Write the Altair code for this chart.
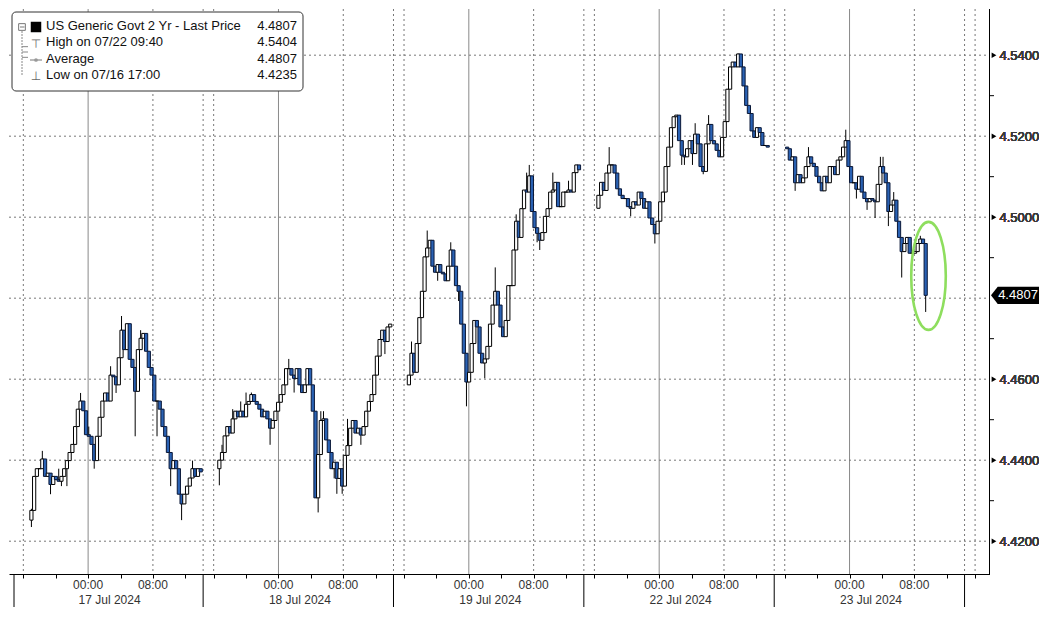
import altair as alt
import pandas as pd

# ---------------- data ----------------
dates = ["17 Jul 2024", "18 Jul 2024", "19 Jul 2024", "22 Jul 2024", "23 Jul 2024"]
# clock hour (relative to midnight of the session date) of first / last bar
session_first_hour = [-7.0, -7.3, -7.4, -7.5, -7.7]
session_last_hour = [13.9, 13.8, 13.6, 13.4, 9.4]
session_open = [4.4252, 4.4379, 4.4586, 4.5022, 4.5173]

s1_close = [4.4276, 4.4360, 4.4379, 4.4379, 4.4403, 4.4360, 4.4368, 4.4340, 4.4360, 4.4352,
            4.4348, 4.4360, 4.4379, 4.4399, 4.4419, 4.4439, 4.4483, 4.4526, 4.4546, 4.4522,
            4.4463, 4.4459, 4.4439, 4.4399, 4.4459, 4.4506, 4.4546, 4.4566, 4.4546, 4.4610,
            4.4606, 4.4586, 4.4653, 4.4721, 4.4673, 4.4737, 4.4649, 4.4629, 4.4570, 4.4673,
            4.4701, 4.4713, 4.4669, 4.4629, 4.4610, 4.4546, 4.4546, 4.4526, 4.4483, 4.4459,
            4.4419, 4.4379, 4.4399, 4.4379, 4.4316, 4.4292, 4.4316, 4.4336, 4.4356, 4.4379,
            4.4360, 4.4379, 4.4371]
s1_high = {0: 4.4280, 4: 4.4423, 10: 4.4379, 18: 4.4566, 21: 4.4483, 29: 4.4632,
           33: 4.4756, 40: 4.4721, 59: 4.4399}
s1_low = {0: 4.4235, 1: 4.4316, 7: 4.4316, 11: 4.4336, 13: 4.4336, 23: 4.4379, 31: 4.4566,
          38: 4.4459, 46: 4.4459, 51: 4.4336, 55: 4.4252}

s2_close = [4.4400, 4.4419, 4.4460, 4.4483, 4.4467, 4.4502, 4.4521, 4.4507, 4.4521, 4.4507,
            4.4538, 4.4545, 4.4562, 4.4545, 4.4538, 4.4526, 4.4507, 4.4521, 4.4502, 4.4479,
            4.4498, 4.4521, 4.4543, 4.4562, 4.4586, 4.4626, 4.4626, 4.4610, 4.4602, 4.4626,
            4.4586, 4.4567, 4.4586, 4.4626, 4.4586, 4.4521, 4.4307, 4.4414, 4.4498, 4.4502,
            4.4450, 4.4419, 4.4379, 4.4395, 4.4355, 4.4379, 4.4336, 4.4412, 4.4436, 4.4479,
            4.4498, 4.4467, 4.4479, 4.4462, 4.4483, 4.4521, 4.4545, 4.4562, 4.4610, 4.4657,
            4.4698, 4.4721, 4.4693, 4.4729, 4.4736]
s2_high = {1: 4.4438, 5: 4.4526, 8: 4.4545, 10: 4.4567, 12: 4.4567, 26: 4.4650,
           38: 4.4521, 39: 4.4521, 48: 4.4502}
s2_low = {0: 4.4338, 19: 4.4438, 28: 4.4567, 37: 4.4271, 43: 4.4355, 44: 4.4317,
          46: 4.4317, 53: 4.4438, 62: 4.4662}

s3_close = [4.4610, 4.4664, 4.4617, 4.4688, 4.4752, 4.4817, 4.4902, 4.4924, 4.4943, 4.4879,
            4.4864, 4.4883, 4.4864, 4.4860, 4.4843, 4.4879, 4.4919, 4.4879, 4.4831, 4.4817,
            4.4736, 4.4664, 4.4593, 4.4617, 4.4688, 4.4745, 4.4729, 4.4664, 4.4640, 4.4650,
            4.4681, 4.4736, 4.4783, 4.4817, 4.4783, 4.4729, 4.4705, 4.4745, 4.4831, 4.4831,
            4.4919, 4.4990, 4.4950, 4.5021, 4.5067, 4.5062, 4.5102, 4.5014, 4.4974, 4.4960,
            4.4943, 4.4962, 4.5002, 4.5021, 4.5062, 4.5067, 4.5086, 4.5026, 4.5026, 4.5062,
            4.5062, 4.5067, 4.5062, 4.5110, 4.5129, 4.5117]
s3_high = {1: 4.4693, 7: 4.4967, 16: 4.4938, 33: 4.4876, 41: 4.5007, 45: 4.5110,
           46: 4.5129, 55: 4.5110, 61: 4.5090}
s3_low = {11: 4.4843, 19: 4.4793, 22: 4.4533, 29: 4.4602, 49: 4.4938, 50: 4.4919}

s4_close = [4.5054, 4.5086, 4.5066, 4.5109, 4.5129, 4.5129, 4.5109, 4.5070, 4.5054, 4.5046,
            4.5046, 4.5026, 4.5022, 4.5038, 4.5030, 4.5062, 4.5046, 4.5022, 4.5038, 4.4998,
            4.4982, 4.4959, 4.4990, 4.5038, 4.5062, 4.5125, 4.5173, 4.5221, 4.5248, 4.5252,
            4.5189, 4.5153, 4.5149, 4.5169, 4.5189, 4.5157, 4.5205, 4.5181, 4.5125, 4.5113,
            4.5181, 4.5229, 4.5189, 4.5181, 4.5165, 4.5149, 4.5197, 4.5236, 4.5316, 4.5371,
            4.5383, 4.5371, 4.5403, 4.5371, 4.5324, 4.5276, 4.5256, 4.5213, 4.5197, 4.5221,
            4.5209, 4.5177, 4.5177, 4.5173]
s4_high = {4: 4.5173, 36: 4.5232, 41: 4.5252, 52: 4.5404, 61: 4.5193}
s4_low = {12: 4.5002, 21: 4.4935, 31: 4.5129, 32: 4.5129, 35: 4.5129, 39: 4.5106}

s5_close = [4.5169, 4.5141, 4.5149, 4.5085, 4.5105, 4.5085, 4.5097, 4.5125, 4.5149, 4.5133,
            4.5125, 4.5101, 4.5085, 4.5065, 4.5101, 4.5085, 4.5125, 4.5125, 4.5105, 4.5141,
            4.5149, 4.5173, 4.5189, 4.5125, 4.5085, 4.5085, 4.5069, 4.5101, 4.5062, 4.5046,
            4.5038, 4.5046, 4.5042, 4.5038, 4.5081, 4.5125, 4.5109, 4.5085, 4.5014, 4.5030,
            4.5042, 4.4990, 4.4950, 4.4915, 4.4935, 4.4950, 4.4911, 4.4911, 4.4915, 4.4935,
            4.4946, 4.4935, 4.4807]
s5_high = {8: 4.5173, 22: 4.5216, 35: 4.5149, 36: 4.5149, 40: 4.5062, 50: 4.4954}
s5_low = {3: 4.5065, 26: 4.5046, 30: 4.5018, 33: 4.4998, 38: 4.4978, 43: 4.4851, 52: 4.4766}

y_grid = [4.42, 4.44, 4.46, 4.48, 4.50, 4.52, 4.54]
y_labelled = [4.42, 4.44, 4.46, 4.50, 4.52, 4.54]   # 4.48 is hidden under the price tag
y_minor = [4.43, 4.45, 4.47, 4.49, 4.51, 4.53]
last_price = 4.4807
legend_labels = ["US Generic Govt 2 Yr - Last Price", "High on 07/22 09:40", "Average",
                 "Low on 07/16 17:00"]
legend_values = ["4.4807", "4.5404", "4.4807", "4.4235"]

# ---------------- layout constants ----------------
W, H = 980, 565
SESSION = 23.5     # compressed axis hours per session
MID0 = 9.15        # axis hour of the first midnight
T_MAX = 119.75
Y_MIN, Y_MAX = 4.4119, 4.5514
FONT = "Liberation Sans"

closes = [s1_close, s2_close, s3_close, s4_close, s5_close]
highs = [s1_high, s2_high, s3_high, s4_high, s5_high]
lows = [s1_low, s2_low, s3_low, s4_low, s5_low]

rows = []
for k in range(5):
    c_list = closes[k]
    n = len(c_list)
    prev = session_open[k]
    a, b = session_first_hour[k], session_last_hour[k]
    for i, c in enumerate(c_list):
        clock = a + (b - a) * i / (n - 1)
        t = SESSION * k + MID0 + clock
        o = prev
        hi = max(o, c, highs[k].get(i, 0))
        lo = min(o, c, lows[k].get(i, 99))
        rows.append(dict(t=t, open=o, close=c, high=hi, low=lo,
                         dir="up" if c >= o else "down"))
        prev = c
candles = pd.DataFrame(rows)

midnights = [MID0 + SESSION * k for k in range(5)]
eights = [m + 8 for m in midnights]
sixteens = [m - 8 for m in midnights] + [MID0 + SESSION * 5 - 8]
bounds = [m + 14.2 for m in midnights]
tick4h = sorted(m + h for m in midnights + [MID0 + SESSION * 5]
                for h in (-8, -4, 0, 4, 8, 12) if 0 <= m + h <= T_MAX)

solid_grid = pd.DataFrame({"t": midnights})
dotted_grid = pd.DataFrame({"t": sixteens + eights + bounds})
hgrid = pd.DataFrame({"p": y_grid})
labelled = pd.DataFrame({"p": y_labelled})
minor = pd.DataFrame({"p": y_minor})
time_labels = pd.DataFrame({"t": midnights + eights,
                            "label": ["00:00"] * 5 + ["08:00"] * 5})
date_labels = pd.DataFrame({"t": [m + 2.65 for m in midnights], "label": dates})
separators = pd.DataFrame({"t": [0.0] + bounds})
last_t = rows[-1]["t"]
ellipse = pd.DataFrame({"t": [last_t + 0.35], "p": [4.4855]})
tag = pd.DataFrame({"p": [last_price], "label": [f"{last_price:.4f}"]})
one = pd.DataFrame({"k": [0]})


def X(field="t"):
    return alt.X(f"{field}:Q", scale=alt.Scale(domain=[0, T_MAX], nice=False, zero=False),
                 axis=alt.Axis(values=tick4h, labels=False, ticks=True, tickSize=4,
                               tickColor="black", domainColor="black", grid=False,
                               title=None))


def Y(field):
    return alt.Y(f"{field}:Q", scale=alt.Scale(domain=[Y_MIN, Y_MAX], nice=False, zero=False),
                 axis=alt.Axis(orient="right", values=y_labelled, format=".4f", ticks=False,
                               labelPadding=10, labelColor="#3a3a3a", labelFontSize=13,
                               labelFontWeight="normal",
                               labelFont=FONT, domainColor="black", grid=False, title=None))


grid_solid = alt.Chart(solid_grid).mark_rule(color="#8a8a8a", strokeWidth=1).encode(
    x=X(), y=alt.value(0), y2=alt.value(H))
grid_dot = alt.Chart(dotted_grid).mark_rule(color="#777777", strokeWidth=1,
                                            strokeDash=[2, 3]).encode(
    x=X(), y=alt.value(0), y2=alt.value(H))
grid_h = alt.Chart(hgrid).mark_rule(color="#777777", strokeWidth=1, strokeDash=[2, 3]).encode(
    y=Y("p"), x=alt.value(0), x2=alt.value(W))

wicks = alt.Chart(candles).mark_rule(color="black", strokeWidth=1).encode(
    x=X(), y=Y("low"), y2="high")
bodies = alt.Chart(candles).mark_bar(width=3.2, strokeWidth=1).encode(
    x=X(), y=Y("open"), y2="close",
    color=alt.Color("dir:N", scale=alt.Scale(domain=["up", "down"], range=["white", "#2a62b4"]),
                    legend=None),
    stroke=alt.Stroke("dir:N", scale=alt.Scale(domain=["up", "down"],
                                               range=["black", "#0a1838"]), legend=None))

ring = alt.Chart(ellipse).mark_point(
    shape="M 0 -1 A 0.32 1 0 1 1 0 1 A 0.32 1 0 1 1 0 -1 Z",
    size=11664, filled=False, color="#8ede5e", strokeWidth=2.6, opacity=1).encode(
    x=X(), y=Y("p"))

arrows = alt.Chart(labelled).mark_point(shape="triangle-right", filled=True, size=30,
                                        color="black", opacity=1).encode(
    x=alt.value(W + 5), y=Y("p"))
minor_ticks = alt.Chart(minor).mark_rule(color="black").encode(
    y=Y("p"), x=alt.value(W), x2=alt.value(W + 5))

tag_shape = alt.Chart(tag).mark_point(
    shape="M -1 0 L -0.72 -0.36 L 1 -0.36 L 1 0.36 L -0.72 0.36 Z",
    size=2304, filled=True, color="black", opacity=1).encode(
    x=alt.value(W + 26), y=Y("p"))
tag_text = alt.Chart(tag).mark_text(color="white", font=FONT, fontSize=13,
                                    align="center", baseline="middle").encode(
    x=alt.value(W + 29), y=Y("p"), text="label:N")

tl = alt.Chart(time_labels).mark_text(font=FONT, fontSize=12, color="#333333",
                                      baseline="middle").encode(
    x=X(), y=alt.value(H + 11), text="label:N")
dl = alt.Chart(date_labels).mark_text(font=FONT, fontSize=12, color="#333333",
                                      baseline="middle").encode(
    x=X(), y=alt.value(H + 26), text="label:N")
seps = alt.Chart(separators).mark_rule(color="black", strokeWidth=1).encode(
    x=X(), y=alt.value(H), y2=alt.value(H + 33))

# legend box
leg_box = alt.Chart(one).mark_rect(fill="white", stroke="#333333", strokeWidth=1,
                                   cornerRadius=4).encode(
    x=alt.value(3), x2=alt.value(294), y=alt.value(3), y2=alt.value(82))
leg_left = alt.Chart(one).mark_text(text=legend_labels, font=FONT, fontSize=13,
                                    color="#111111", align="left", baseline="top",
                                    lineHeight=16.3).encode(
    x=alt.value(37), y=alt.value(11))
leg_right = alt.Chart(one).mark_text(text=legend_values, font=FONT, fontSize=13,
                                     color="#111111", align="right", baseline="top",
                                     lineHeight=16.3).encode(
    x=alt.value(288), y=alt.value(11))
leg_square = alt.Chart(one).mark_square(size=110, color="black", filled=True,
                                        opacity=1).encode(x=alt.value(27), y=alt.value(18))
leg_tree_box = alt.Chart(one).mark_square(size=45, filled=False, color="#777777",
                                          opacity=1, strokeWidth=1).encode(
    x=alt.value(13), y=alt.value(18))
leg_tree_minus = alt.Chart(one).mark_rule(color="#777777").encode(
    x=alt.value(11), x2=alt.value(15.5), y=alt.value(18))
leg_tree_v = alt.Chart(one).mark_rule(color="#888888", strokeDash=[2, 1]).encode(
    x=alt.value(13), y=alt.value(22), y2=alt.value(67))
leg_tree_h = alt.Chart(pd.DataFrame({"k": [0, 1, 2]})).mark_rule(color="#888888").encode(
    x=alt.value(13), x2=alt.value(19),
    y=alt.Y("k:O", scale=alt.Scale(domain=[0, 1, 2], range=[35, 51, 67]), axis=None))
leg_hi = alt.Chart(one).mark_text(text="⊤", font="DejaVu Sans", fontSize=12,
                                  color="#666666").encode(x=alt.value(27), y=alt.value(35))
leg_lo = alt.Chart(one).mark_text(text="⊥", font="DejaVu Sans", fontSize=12,
                                  color="#666666").encode(x=alt.value(27), y=alt.value(67))
leg_avg_line = alt.Chart(one).mark_rule(color="#777777").encode(
    x=alt.value(21), x2=alt.value(33), y=alt.value(51))
leg_avg_dot = alt.Chart(one).mark_point(shape="circle", size=14, filled=True,
                                        color="#999999", opacity=1).encode(
    x=alt.value(27), y=alt.value(51))

chart = alt.layer(
    grid_dot, grid_solid, grid_h, wicks, bodies, ring,
    arrows, minor_ticks, tag_shape, tag_text, tl, dl, seps,
    leg_box, leg_left, leg_right, leg_square, leg_tree_box, leg_tree_minus,
    leg_tree_v, leg_tree_h, leg_hi, leg_lo, leg_avg_line, leg_avg_dot
).resolve_scale(y="shared").properties(
    width=W, height=H, padding=0
).configure_view(stroke=None)

chart.save("out.html", embed_options={"renderer": "svg", "actions": False})
